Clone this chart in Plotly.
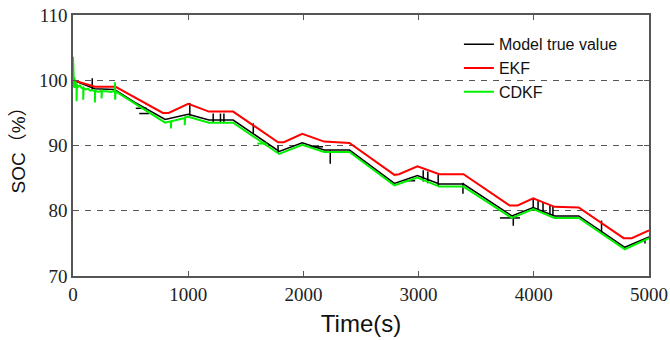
import plotly.graph_objects as go

# ---- Model true value (SOC, %) : base trajectory ----
t_true = [0, 190, 360, 530, 800, 1000, 1180, 1390, 1790, 1990, 2180, 2400,
          2790, 2990, 3180, 3390, 3810, 3995, 4180, 4390, 4790, 5000]
soc_true = [100.0, 98.7, 98.6, 96.7, 94.0, 94.8, 93.9, 93.9, 89.1, 90.4, 89.3, 89.3,
            84.2, 85.4, 84.1, 84.1, 79.2, 80.5, 79.2, 79.2, 74.4, 76.0]

# short vertical jumps of the true value: time, upper value, lower value
jump_t = [167, 1014, 1217, 1280, 1310, 1565, 1780, 2233, 3040, 3080, 3170,
          3385, 3822, 3995, 4037, 4080, 4140, 4166, 4588, 4965]
jump_hi = [100.3, 96.5, 94.9, 94.9, 94.9, 93.4, 90.0, 89.3, 86.2, 86.0, 85.5,
           84.3, 79.2, 81.8, 81.6, 81.2, 80.8, 80.6, 78.5, 75.7]
jump_lo = [98.5, 94.6, 93.6, 93.6, 93.6, 91.8, 88.8, 87.2, 84.5, 84.2, 83.8,
           82.6, 77.7, 80.2, 80.0, 79.7, 79.3, 79.2, 76.6, 75.0]

# short flat pieces of the true value: start time, end time, value
flat_t0 = [545, 575, 2060, 2885, 3706]
flat_t1 = [640, 660, 2170, 2970, 3880]
flat_v = [95.7, 94.9, 89.8, 84.6, 78.9]

# ---- EKF estimate ----
t_ekf = [0, 190, 370, 780, 830, 1000, 1180, 1390, 1780, 1830, 1990, 2180, 2400,
         2790, 2830, 2990, 3180, 3390, 3790, 3860, 3995, 4180, 4390, 4780, 4850, 5000]
soc_ekf = [100.0, 99.0, 99.0, 95.0, 95.0, 96.4, 95.2, 95.2, 90.5, 90.5, 91.8, 90.6, 90.4,
           85.5, 85.6, 86.8, 85.6, 85.6, 80.8, 80.8, 81.9, 80.6, 80.5, 75.8, 75.8, 77.0]

# ---- CDKF estimate ----
t_cdkf = [0, 3, 6, 9, 13, 17, 22, 27, 31, 31, 34, 45, 60, 75, 89, 89, 92,
          110, 130, 150, 170, 190, 190, 193, 220, 248, 248, 251, 290, 330,
          362, 364, 366, 370, 800, 850, 850, 853, 970, 970, 973, 1000, 1180,
          1390, 1790, 1990, 2180, 2400, 2790, 2990, 3180, 3390, 3810, 3995,
          4180, 4390, 4790, 5000]
soc_cdkf = [103.6, 99.2, 101.4, 98.9, 100.4, 98.8, 99.8, 99.2, 99.5, 96.8, 99.3,
            99.0, 99.2, 98.8, 98.9, 97.0, 98.8, 98.6, 98.7, 98.4, 98.5, 98.3, 96.6,
            98.4, 98.2, 98.4, 97.2, 98.3, 98.3, 98.2, 98.4, 99.7, 97.0, 98.3, 93.5,
            93.7, 92.6, 93.7, 94.2, 93.1, 94.3, 94.4, 93.5, 93.5, 88.7, 90.1, 89.0,
            89.0, 83.9, 85.1, 83.7, 83.7, 78.9, 80.25, 78.9, 78.9, 74.1, 75.8]
# short flat piece of the CDKF estimate
cdkf_flat_t0 = [1600]
cdkf_flat_t1 = [1680]
cdkf_flat_v = [90.3]

x_ticks = [0, 1000, 2000, 3000, 4000, 5000]
y_ticks = [70, 80, 90, 100, 110]


def with_segments(xs, ys, seg_x, seg_y):
    """Append separate segments (lists of point pairs) to a line, split by gaps."""
    x_out, y_out = list(xs), list(ys)
    for sx, sy in zip(seg_x, seg_y):
        x_out += [None] + list(sx)
        y_out += [None] + list(sy)
    return x_out, y_out


true_seg_x = [[t, t] for t in jump_t] + [[a, b] for a, b in zip(flat_t0, flat_t1)]
true_seg_y = [[h, l] for h, l in zip(jump_hi, jump_lo)] + [[v, v] for v in flat_v]
x_true, y_true = with_segments(t_true, soc_true, true_seg_x, true_seg_y)

x_cdkf, y_cdkf = with_segments(
    t_cdkf, soc_cdkf,
    [[a, b] for a, b in zip(cdkf_flat_t0, cdkf_flat_t1)],
    [[v, v] for v in cdkf_flat_v])

fig = go.Figure()
fig.add_trace(go.Scatter(x=x_true, y=y_true, mode="lines", name="Model true value",
                         line=dict(color="#000000", width=1.5), connectgaps=False))
fig.add_trace(go.Scatter(x=t_ekf, y=soc_ekf, mode="lines", name="EKF",
                         line=dict(color="#ff0000", width=2)))
fig.add_trace(go.Scatter(x=x_cdkf, y=y_cdkf, mode="lines", name="CDKF",
                         line=dict(color="#00f000", width=2), connectgaps=False))

axis_common = dict(
    showline=True, linecolor="#555555", linewidth=1.5, mirror="ticks",
    ticks="inside", ticklen=5, tickcolor="#555555", tickwidth=1,
    zeroline=False, automargin=False,
    tickfont=dict(family="Liberation Serif, Times New Roman, serif", size=19, color="#222222"),
)

fig.update_layout(
    width=670, height=340,
    margin=dict(l=73, r=21, t=15, b=64),
    paper_bgcolor="white", plot_bgcolor="white",
    showlegend=True,
    legend=dict(x=0.67, y=0.953, xanchor="left", yanchor="top",
                bgcolor="rgba(0,0,0,0)", borderwidth=0, itemwidth=30,
                tracegroupgap=0,
                font=dict(family="Liberation Sans, Arial, sans-serif", size=16, color="#111111")),
    xaxis=dict(range=[0, 5000], tickvals=x_ticks, showgrid=False,
               title=dict(text="Time(s)", standoff=12,
                          font=dict(family="Liberation Sans, Arial, sans-serif", size=24, color="#111111")),
               **axis_common),
    yaxis=dict(range=[70, 110], tickvals=y_ticks, showgrid=True,
               gridcolor="#555555", gridwidth=1.3, griddash="6px,6px",
               title=dict(text="SOC（%）", standoff=8,
                          font=dict(family="Liberation Sans, Noto Sans CJK SC, sans-serif", size=19, color="#111111")),
               **axis_common),
)

fig.write_html("out.html")
